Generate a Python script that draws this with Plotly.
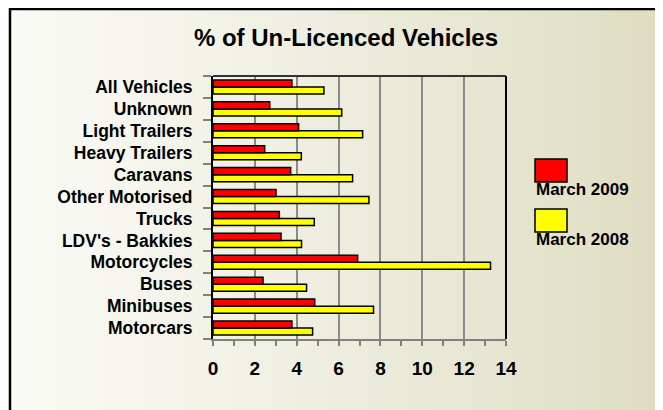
import plotly.graph_objects as go

categories = ["Motorcars", "Minibuses", "Buses", "Motorcycles", "LDV's - Bakkies", "Trucks",
              "Other Motorised", "Caravans", "Heavy Trailers", "Light Trailers", "Unknown", "All Vehicles"]
march_2009 = [3.77, 4.86, 2.39, 6.91, 3.25, 3.17, 3.01, 3.71, 2.47, 4.09, 2.71, 3.77]
march_2008 = [4.76, 7.67, 4.47, 13.26, 4.23, 4.84, 7.45, 6.67, 4.22, 7.15, 6.15, 5.30]
series_names = ["March 2009", "March 2008"]
series_colors = ["#FF0000", "#FFFF00"]
x_ticks = [0, 2, 4, 6, 8, 10, 12, 14]

# page body adds an 8px offset; reference pixel p appears at figure pixel p - OFF
OFF = 8
W, H = 663 - OFF, 410 - OFF
ML, MR, MT, MB = 213 - OFF, 157, 76 - OFF, 71
PW, PH = W - ML - MR, H - MT - MB
FONT = "Liberation Sans, Arial, sans-serif"


def px_x(p):  # reference pixel -> paper x
    return (p - OFF - ML) / PW


def px_y(p):  # reference pixel -> paper y
    return 1 - (p - OFF - MT) / PH


fig = go.Figure()
fig.add_trace(go.Bar(y=categories, x=march_2008, orientation="h", name=series_names[1],
                     marker=dict(color=series_colors[1], line=dict(color="black", width=1.5)),
                     showlegend=False))
fig.add_trace(go.Bar(y=categories, x=march_2009, orientation="h", name=series_names[0],
                     marker=dict(color=series_colors[0], line=dict(color="black", width=1.5)),
                     showlegend=False))

shapes = []
# gradient background
left = (250, 250, 246)
right = (222, 221, 194)
step = 3
for p in range(0, 663 + step, step):
    t = (p / 663) ** 1.15
    c = tuple(int(round(left[i] + (right[i] - left[i]) * t)) for i in range(3))
    shapes.append(dict(type="rect", xref="paper", yref="paper", layer="below",
                       x0=px_x(p), x1=px_x(p + step + 0.5), y0=px_y(-5), y1=px_y(430),
                       fillcolor="rgb(%d,%d,%d)" % c, line=dict(width=0)))
# outer frame
shapes.append(dict(type="rect", xref="paper", yref="paper", layer="above",
                   x0=px_x(10), x1=px_x(700), y0=px_y(9), y1=px_y(450),
                   line=dict(color="black", width=2.5), fillcolor="rgba(0,0,0,0)"))
# plot border top and right
shapes.append(dict(type="line", xref="paper", yref="paper", x0=0, x1=1, y0=1, y1=1,
                   line=dict(color="#333333", width=2)))
shapes.append(dict(type="line", xref="paper", yref="paper", x0=1, x1=1, y0=0, y1=1,
                   line=dict(color="black", width=2)))

annotations = []
# manual legend
legend_items = [(series_names[0], series_colors[0], 159), (series_names[1], series_colors[1], 209)]
for name, col, top in legend_items:
    shapes.append(dict(type="rect", xref="paper", yref="paper",
                       x0=px_x(535), x1=px_x(567), y0=px_y(top + 23), y1=px_y(top),
                       fillcolor=col, line=dict(color="black", width=1.5)))
    annotations.append(dict(text=name, xref="paper", yref="paper", x=px_x(534), y=px_y(top + 30),
                            xanchor="left", yanchor="middle", showarrow=False,
                            font=dict(family=FONT, size=17, color="black", weight="bold")))

fig.update_layout(
    width=W, height=H,
    margin=dict(l=ML, r=MR, t=MT, b=MB),
    paper_bgcolor="white",
    plot_bgcolor="rgba(0,0,0,0)",
    barmode="group", bargap=0.36, bargroupgap=0,
    title=dict(text="% of Un-Licenced Vehicles", x=(346 - OFF) / W, xanchor="center",
               y=1 - (38 - OFF) / H, yanchor="middle",
               font=dict(family=FONT, size=24, color="black", weight="bold")),
    xaxis=dict(range=[0, 14], tickvals=x_ticks, ticktext=[str(v) for v in x_ticks],
               showgrid=True, gridcolor="#8a8a8a", gridwidth=1.5,
               showline=True, linecolor="#808080", linewidth=2,
               ticks="outside", ticklen=5, tickcolor="#808080", tickwidth=1.5,
               minor=dict(dtick=1, ticks="outside", ticklen=5, tickcolor="#808080", tickwidth=1.5, showgrid=False),
               ticklabelstandoff=6,
               tickfont=dict(family=FONT, size=19, color="black", weight="bold"),
               zeroline=False, fixedrange=True),
    yaxis=dict(type="category", categoryorder="array", categoryarray=categories,
               showline=True, linecolor="black", linewidth=2,
               ticks="outside", ticklen=8, tickcolor="#808080", tickwidth=2, tickson="boundaries",
               ticklabelstandoff=15,
               showgrid=False,
               tickfont=dict(family=FONT, size=17.5, color="black", weight="bold"),
               fixedrange=True),
    shapes=shapes,
    annotations=annotations,
)

fig.write_html("out.html")
